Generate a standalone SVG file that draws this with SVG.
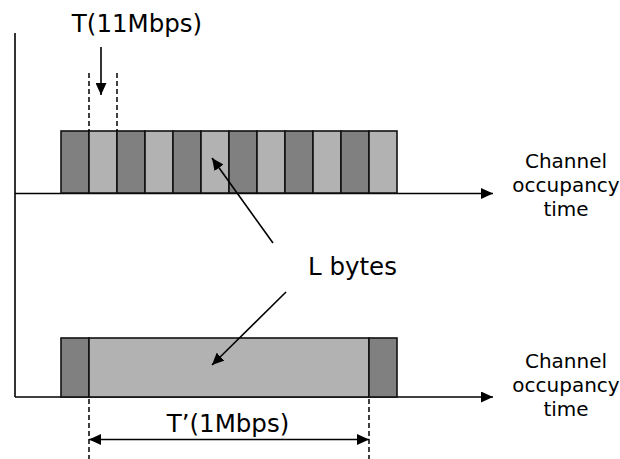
<svg xmlns="http://www.w3.org/2000/svg" width="620" height="459" viewBox="0 0 620 459">
  <style>
    text { font-family: "DejaVu Sans", Verdana, sans-serif; fill: #000; }
    .big { font-size: 24.5px; }
    .lbl { font-size: 20px; text-anchor: middle; }
    .dark { fill: #808080; stroke: #111; stroke-width: 1.6; }
    .light { fill: #b2b2b2; stroke: #111; stroke-width: 1.6; }
    .line { stroke: #000; stroke-width: 1.6; fill: none; }
    .dash { stroke: #000; stroke-width: 1.5; stroke-dasharray: 5 3; fill: none; }
  </style>
  <defs>
    <marker id="arrow" viewBox="0 0 12 11" refX="12" refY="5.5" markerWidth="12" markerHeight="11" markerUnits="userSpaceOnUse" orient="auto-start-reverse">
      <path d="M0,0 L12,5.5 L0,11 Z" fill="#000"/>
    </marker>
  </defs>

  <rect width="620" height="459" fill="#fff"/>

  <!-- time axes -->
  <g id="axes">
    <line class="line" x1="15" y1="33" x2="15" y2="397"/>
    <line class="line" x1="15" y1="193.5" x2="493" y2="193.5" marker-end="url(#arrow)"/>
    <line class="line" x1="15" y1="397" x2="493" y2="397" marker-end="url(#arrow)"/>
    <text class="lbl" x="566" y="168">Channel</text>
    <text class="lbl" x="566" y="192">occupancy</text>
    <text class="lbl" x="566" y="216">time</text>
    <text class="lbl" x="566" y="368">Channel</text>
    <text class="lbl" x="566" y="392">occupancy</text>
    <text class="lbl" x="566" y="416">time</text>
  </g>

  <!-- 11 Mbps: twelve short slots -->
  <g id="frame-11mbps">
    <rect class="dark" x="61" y="131" width="28" height="62"/>
    <rect class="light" x="89" y="131" width="28" height="62"/>
    <rect class="dark" x="117" y="131" width="28" height="62"/>
    <rect class="light" x="145" y="131" width="28" height="62"/>
    <rect class="dark" x="173" y="131" width="28" height="62"/>
    <rect class="light" x="201" y="131" width="28" height="62"/>
    <rect class="dark" x="229" y="131" width="28" height="62"/>
    <rect class="light" x="257" y="131" width="28" height="62"/>
    <rect class="dark" x="285" y="131" width="28" height="62"/>
    <rect class="light" x="313" y="131" width="28" height="62"/>
    <rect class="dark" x="341" y="131" width="28" height="62"/>
    <rect class="light" x="369" y="131" width="28" height="62"/>
  </g>

  <!-- 1 Mbps: one long slot between headers -->
  <g id="frame-1mbps">
    <rect class="dark" x="61" y="338" width="28" height="59"/>
    <rect class="light" x="89" y="338" width="280" height="59"/>
    <rect class="dark" x="369" y="338" width="28" height="59"/>
  </g>

  <!-- slot duration T -->
  <g id="label-t">
    <text class="big" x="137" y="32" text-anchor="middle">T(11Mbps)</text>
    <line class="dash" x1="89" y1="73" x2="89" y2="131"/>
    <line class="dash" x1="117" y1="73" x2="117" y2="131"/>
  </g>

  <!-- slot duration T' -->
  <g id="label-t-prime">
    <line class="dash" x1="89" y1="399" x2="89" y2="459"/>
    <line class="dash" x1="369" y1="399" x2="369" y2="459"/>
    <text class="big" x="228" y="432" text-anchor="middle">T’(1Mbps)</text>
  </g>

  <g id="label-l-bytes">
    <text class="big" x="308" y="275">L bytes</text>
  </g>

  <!-- connectors -->
  <g id="connectors">
    <line class="line" x1="101" y1="47" x2="101" y2="95" marker-end="url(#arrow)"/>
    <line class="line" x1="273" y1="243" x2="212" y2="158" marker-end="url(#arrow)"/>
    <line class="line" x1="286" y1="292" x2="212" y2="365" marker-end="url(#arrow)"/>
    <line class="line" x1="89" y1="439.5" x2="369" y2="439.5" marker-start="url(#arrow)" marker-end="url(#arrow)"/>
  </g>
</svg>
